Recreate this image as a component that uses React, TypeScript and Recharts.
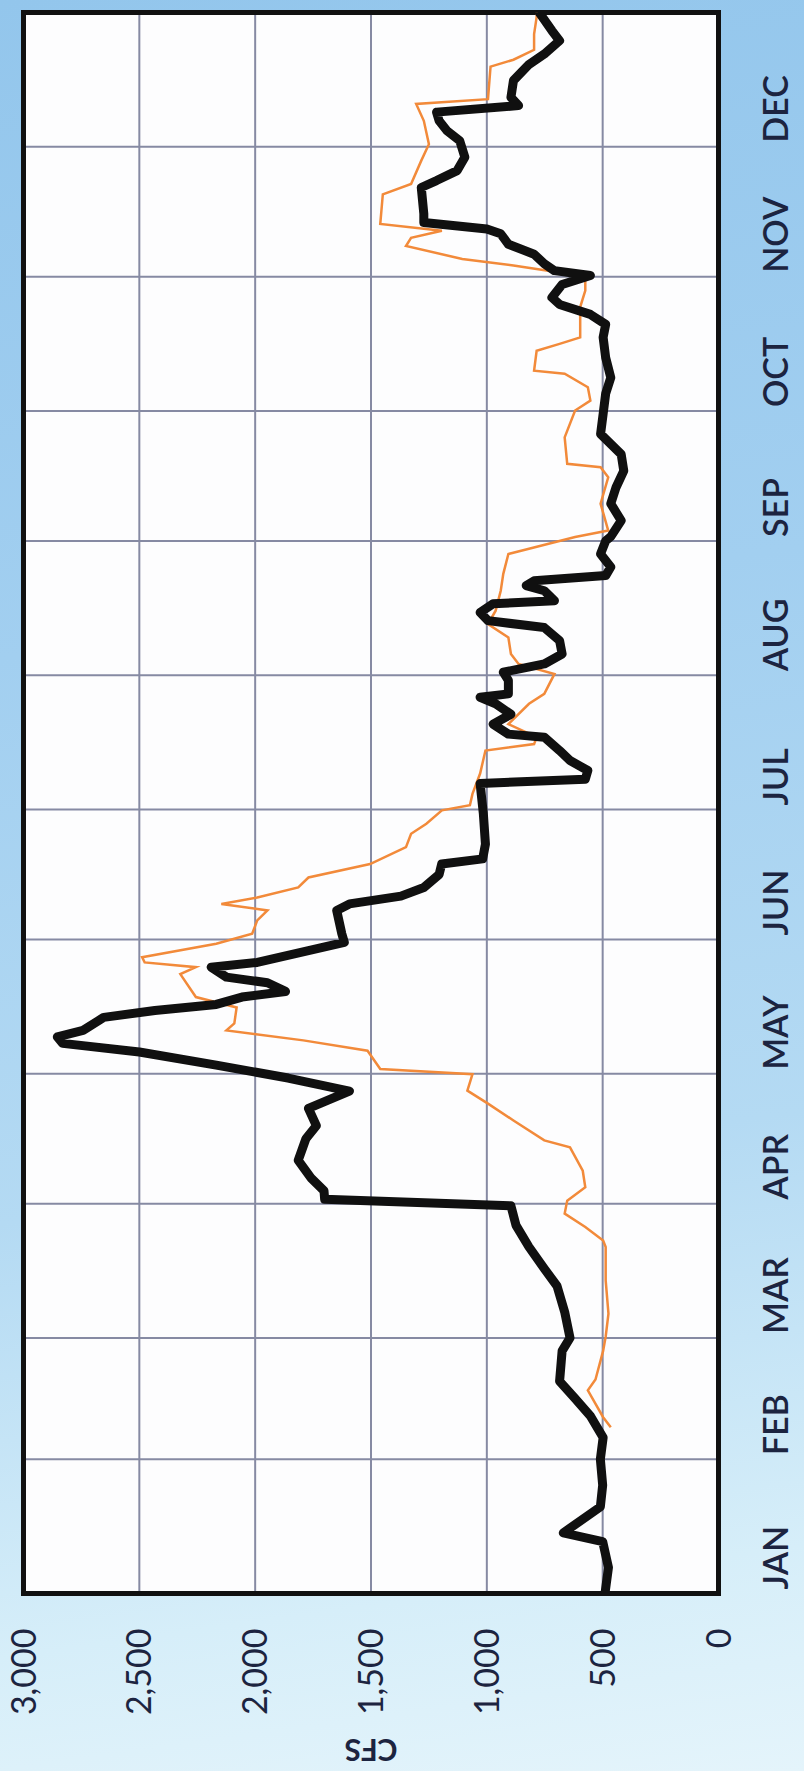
import React from "react";
import {
  LineChart,
  Line,
  XAxis,
  YAxis,
  CartesianGrid,
  ReferenceArea,
  Label,
} from "recharts";

// ---- data (day of year -> CFS) ----
const monthLabels = ["JAN", "FEB", "MAR", "APR", "MAY", "JUN", "JUL", "AUG", "SEP", "OCT", "NOV", "DEC"];
const monthStartDays = [0, 31, 59, 90, 120, 151, 181, 212, 243, 273, 304, 334, 365];
const cfsTicks = [0, 500, 1000, 1500, 2000, 2500, 3000];

const blackDays = [
  0, 6, 12, 14, 20, 25, 31, 36, 41, 45, 49, 56, 59, 65, 71, 75, 80, 85, 89.5, 91, 93, 96, 100, 105, 108, 112, 116,
  119, 122, 125, 127, 128.5, 130, 133, 134.6, 136, 137.7, 139, 141, 142.3, 144.6, 145.7, 148.4, 150.3, 152.3, 157.7,
  159.2, 161, 163, 166, 168.4, 169.6, 173, 180, 187, 188, 190, 192.3, 194.6, 197.7, 198.4, 200.7, 203, 205.4, 206.9,
  207.7, 210.8, 212.7, 214.6, 216.9, 220, 223, 224.6, 226.5, 228.5, 229.2, 231.5, 232.7, 233.8, 235, 237, 240, 243,
  244, 247.7, 251.6, 255.4, 259.2, 263, 267.7, 272.3, 277, 280.7, 285.3, 290, 293, 295.3, 297.6, 299.2, 302.2, 304.3,
  305.4, 307, 309.2, 311.5, 313.9, 315, 316.5, 318.5, 324.6, 326.2, 328.5, 331.6, 335.4, 337.7, 340, 342, 343.5,
  345.4, 349.3, 353, 355.4, 358.5, 360.8, 365,
];
const blackCfs = [
  490, 475, 500, 670, 510, 500, 510, 498, 553, 619, 686, 675, 641, 664, 697, 752, 818, 874, 896, 1700, 1703, 1760, 1814,
  1781, 1736, 1770, 1593, 1858, 2168, 2500, 2831, 2854, 2743, 2654, 2433, 2168, 2057, 1869, 1947, 2124, 2190, 1991,
  1770, 1615, 1626, 1648, 1593, 1371, 1272, 1206, 1195, 1018, 1006, 1015, 1029, 575, 564, 641, 686, 752, 907, 973, 896,
  962, 1029, 907, 907, 929, 752, 675, 686, 752, 995, 1029, 973, 708, 752, 830, 796, 487, 465, 509, 487, 465, 420, 465,
  442, 409, 420, 509, 498, 487, 465, 487, 498, 487, 553, 686, 719, 675, 553, 708, 752, 796, 907, 940, 1000, 1272, 1272,
  1283, 1217, 1128, 1095, 1117, 1172, 1206, 1217, 863, 896, 885, 818, 752, 686, 719, 774,
];

const orangeDays = [
  38.4, 40.7, 46.9, 49.4, 56, 59.3, 64.6, 72.3, 80, 81.5, 84.6, 87.7, 90.7, 93.8, 97.6, 103, 104.6, 109.2, 113.1,
  116.1, 119.9, 121.1, 125.3, 127.7, 130, 131.6, 135.3, 137.7, 143, 144.6, 145.7, 146.9, 150, 152.3, 155.4, 157.7,
  159.2, 160.7, 163, 165.3, 168.4, 172.3, 175.4, 177.7, 180.8, 182, 184.6, 189.3, 194.6, 196.1, 197.7, 200.7, 205.4,
  207.7, 212.3, 214.6, 216.9, 220.7, 223.8, 226.9, 231.5, 235.4, 240, 241.2, 243.9, 245.4, 251.6, 257.7, 260, 260.8,
  266.9, 273.1, 275.4, 278.5, 281.6, 282.3, 286.9, 288.5, 290, 297, 300.8, 303.9, 305, 306.6, 308.1, 311.1, 313,
  314.6, 316.2, 323, 325.4, 330.8, 334.6, 340, 343.9, 345, 352.5, 354.1, 356.4, 360, 363.9, 365,
];
const orangeCfs = [
  465, 498, 564, 531, 498, 487, 475, 487, 487, 498, 575, 664, 653, 575, 586, 641, 752, 885, 995, 1084, 1062, 1460,
  1515, 1792, 2124, 2090, 2080, 2256, 2323, 2256, 2477, 2488, 2168, 2013, 1991, 1947, 2146, 1991, 1814, 1770, 1504,
  1349, 1327, 1261, 1194, 1073, 1062, 1029, 1006, 796, 785, 907, 818, 752, 708, 863, 896, 907, 995, 962, 940, 929,
  907, 818, 619, 476, 509, 476, 509, 653, 664, 619, 553, 564, 664, 796, 785, 686, 597, 597, 575, 575, 686, 885, 1106,
  1349, 1327, 1194, 1460, 1449, 1327, 1283, 1250, 1272, 1305, 995, 984, 885, 796, 796, 785, 785,
];

const blackData = blackDays.map((d, i) => ({ day: d, cfs: blackCfs[i] }));
const orangeData = orangeDays.map((d, i) => ({ day: d, cfs: orangeCfs[i] }));

const FONT = "Lato, 'Open Sans', sans-serif";
const TEXT = "#1c2440";

const MonthTick = (props: any) => {
  const { x, y, payload } = props;
  const i = monthStartDays.indexOf(payload.value);
  if (i < 0 || i >= 12) return <g />;
  return (
    <text x={x + 4} y={y + 69} textAnchor="start" fill={TEXT} fontSize={34} fontWeight={600} fontFamily={FONT}>
      {monthLabels[i]}
    </text>
  );
};

const CfsTitle = (props: any) => {
  const vb = props.viewBox || { x: 0, y: 0, width: 0, height: 0 };
  const cx = vb.x + 21;
  const cy = vb.y + vb.height / 2;
  return (
    <text
      x={cx}
      y={cy}
      transform={`rotate(-90 ${cx} ${cy})`}
      textAnchor="middle"
      dominantBaseline="central"
      fill={TEXT}
      fontSize={30}
      fontWeight={700}
      fontFamily={FONT}
    >
      CFS
    </text>
  );
};

const W = 1771;
const H = 804;

export default function App() {
  return (
    <div
      style={{
        position: "absolute",
        left: 0,
        top: 0,
        width: 804,
        height: 1771,
        overflow: "hidden",
        background:
          "linear-gradient(172deg, #93c6ec 0%, #a2cff0 35%, #b4daf3 65%, #d6eef9 88%, #e4f4fb 100%)",
      }}
    >
      <div
        style={{
          position: "absolute",
          width: W,
          height: H,
          left: (804 - W) / 2,
          top: (1771 - H) / 2,
          transform: "rotate(-90deg)",
          transformOrigin: "50% 50%",
        }}
      >
        <LineChart width={W} height={H} margin={{ top: 23, right: 12, bottom: 0, left: 0 }}>
          <CartesianGrid fill="#fdfdfe" stroke="#868aa3" strokeWidth={2} />
          <XAxis
            type="number"
            dataKey="day"
            domain={[0, 365]}
            ticks={monthStartDays}
            interval={0}
            allowDataOverflow
            height={86}
            axisLine={false}
            tickLine={false}
            tickSize={0}
            tickMargin={0}
            tick={<MonthTick />}
          />
          <YAxis
            type="number"
            domain={[0, 3000]}
            ticks={cfsTicks}
            interval={0}
            width={178}
            axisLine={false}
            tickLine={false}
            tickSize={0}
            tickMargin={35}
            tickFormatter={(v: number) => v.toLocaleString("en-US")}
            tick={{ fill: TEXT, fontSize: 34, fontFamily: FONT }}
          >
            <Label content={<CfsTitle />} />
          </YAxis>
          <Line
            data={orangeData}
            dataKey="cfs"
            type="linear"
            stroke="#f28a3a"
            strokeWidth={2.5}
            dot={false}
            activeDot={false}
            isAnimationActive={false}
          />
          <Line
            data={blackData}
            dataKey="cfs"
            type="linear"
            stroke="#101010"
            strokeWidth={9}
            strokeLinejoin="round"
            strokeLinecap="round"
            dot={false}
            activeDot={false}
            isAnimationActive={false}
          />
          <ReferenceArea
            x1={0}
            x2={365}
            y1={0}
            y2={3000}
            fill="none"
            fillOpacity={0}
            stroke="#111"
            strokeWidth={5}
            ifOverflow="visible"
          />
        </LineChart>
      </div>
    </div>
  );
}
